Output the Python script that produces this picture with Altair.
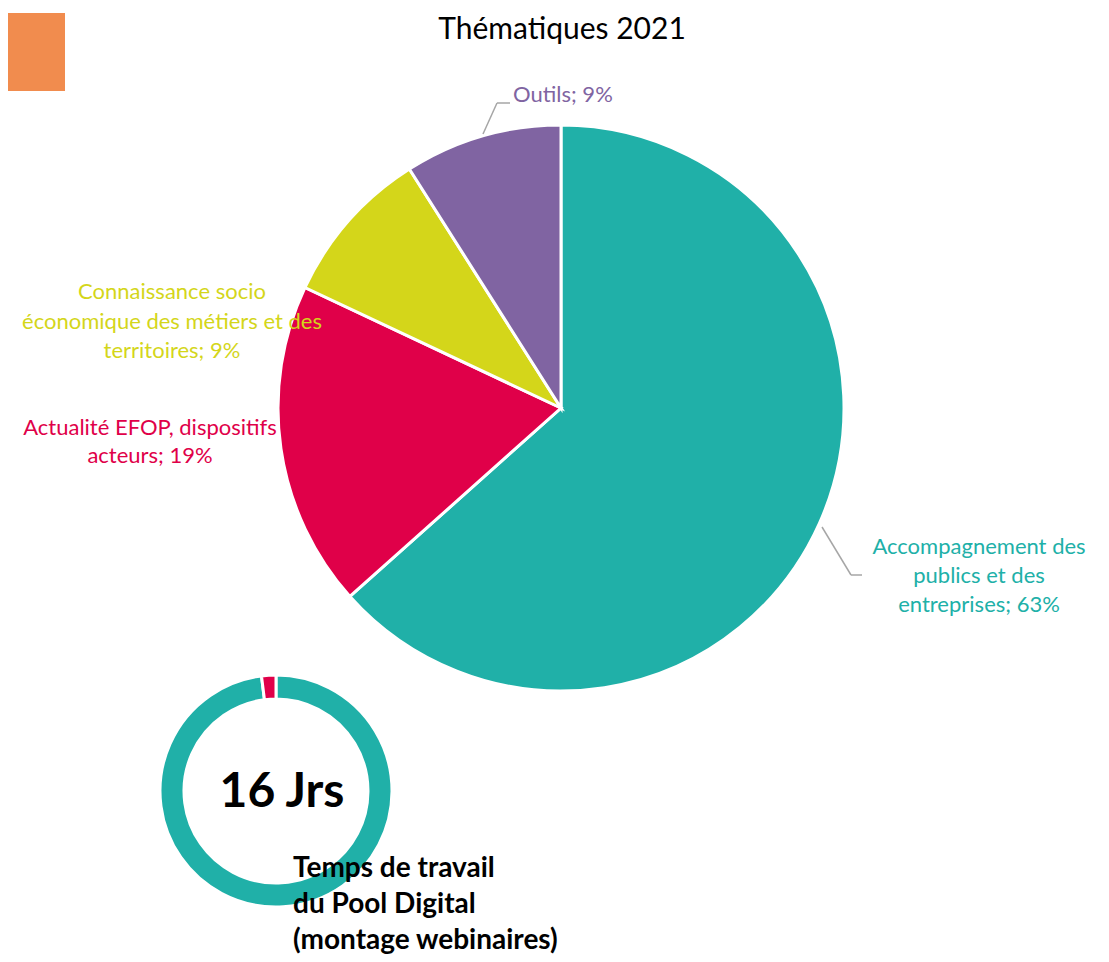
import altair as alt
import pandas as pd

# ---- data ----
pie_categories = [
    "Accompagnement des publics et des entreprises",
    "Actualité EFOP, dispositifs acteurs",
    "Connaissance socio économique des métiers et des territoires",
    "Outils",
]
pie_values = [63.4, 18.6, 9.0, 9.0]
pie_labels = ["63%", "19%", "9%", "9%"]

donut_categories = ["Pool Digital", "Autre"]
donut_values = [98, 2]

title_text = "Thématiques 2021"
big_number = "16 Jrs"
caption_lines = ["Temps de travail", "du Pool Digital", "(montage webinaires)"]

label_lines = {
    "Accompagnement": ["Accompagnement des", "publics et des", "entreprises; 63%"],
    "Actualité": ["Actualité EFOP, dispositifs", "acteurs; 19%"],
    "Connaissance": ["Connaissance socio", "économique des métiers et des", "territoires; 9%"],
    "Outils": ["Outils; 9%"],
}

# ---- styles ----
TEAL = "#20B0A8"
RED = "#E00049"
YELLOW = "#D4D61A"
PURPLE = "#8064A2"
ORANGE = "#F18C4E"
GREY = "#A6A6A6"
FONT = "Lato"

pie_df = pd.DataFrame({"cat": pie_categories, "value": pie_values, "order": range(len(pie_values))})
donut_df = pd.DataFrame({"cat": donut_categories, "value": donut_values, "order": range(len(donut_values))})
one = pd.DataFrame({"k": [0]})

pie = alt.Chart(pie_df).mark_arc(radius=283, stroke="white", strokeWidth=3).encode(
    theta=alt.Theta("value:Q", stack=True),
    order=alt.Order("order:Q"),
    color=alt.Color("cat:N", scale=alt.Scale(domain=pie_categories, range=[TEAL, RED, YELLOW, PURPLE]), legend=None),
    x=alt.value(553),
    y=alt.value(400),
)

donut = alt.Chart(donut_df).mark_arc(radius=116, radius2=92, stroke="white", strokeWidth=3).encode(
    theta=alt.Theta("value:Q", stack=True),
    order=alt.Order("order:Q"),
    color=alt.Color("cat:N", scale=alt.Scale(domain=donut_categories, range=[TEAL, RED]), legend=None),
    x=alt.value(268),
    y=alt.value(783),
)

square = alt.Chart(one).mark_rect(color=ORANGE).encode(
    x=alt.value(0), x2=alt.value(57), y=alt.value(5), y2=alt.value(83)
)

def txt(lines, x, y, color, size, weight="normal", align="center", lh=29):
    return alt.Chart(pd.DataFrame({"t": [lines]})).mark_text(
        font=FONT, fontSize=size, fontWeight=weight, color=color, align=align,
        baseline="middle", lineHeight=lh,
    ).encode(text="t", x=alt.value(x), y=alt.value(y))

def rule(x1, y1, x2, y2):
    return alt.Chart(one).mark_rule(color=GREY, strokeWidth=1.5).encode(
        x=alt.value(x1), y=alt.value(y1), x2=alt.value(x2), y2=alt.value(y2)
    )

layers = [
    square,
    pie,
    donut,
    rule(475, 126, 489, 95), rule(489, 95, 502, 95),
    rule(814, 519, 843, 567), rule(843, 567, 854, 567),
    txt(title_text, 554, 22, "#000000", 30),
    txt(label_lines["Outils"], 505, 87, PURPLE, 22, align="left"),
    txt(label_lines["Accompagnement"], 971, 539, TEAL, 22, lh=29),
    txt(label_lines["Connaissance"], 164, 284, YELLOW, 22, lh=29.5),
    txt(label_lines["Actualité"], 142, 420, RED, 22, lh=28),
    txt(big_number, 274, 785, "#000000", 48, weight="bold"),
    txt(caption_lines, 285, 861, "#000000", 28, weight="bold", align="left", lh=36),
]

chart = alt.layer(*layers).resolve_scale(theta="independent", color="independent").properties(
    width=1093, height=946, autosize=alt.AutoSizeParams(type="none"), padding=0
).configure_view(stroke=None)

chart.save("out.html", embed_options={"renderer": "svg", "actions": False})
